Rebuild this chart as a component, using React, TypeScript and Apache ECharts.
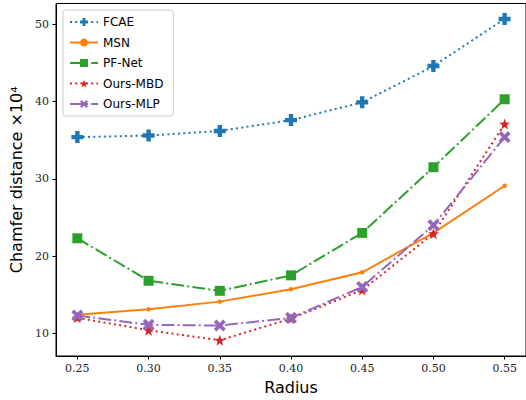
import React, { useEffect, useRef } from "react";
import * as echarts from "echarts";

const radius = [0.25, 0.3, 0.35, 0.4, 0.45, 0.5, 0.55];
const xTicks = [0.25, 0.3, 0.35, 0.4, 0.45, 0.5, 0.55];
const yTicks = [10, 20, 30, 40, 50];
const fcae = [35.4, 35.6, 36.2, 37.6, 39.9, 44.6, 50.7];
const msn = [12.4, 13.1, 14.1, 15.7, 17.9, 23.0, 29.1];
const pfnet = [22.3, 16.8, 15.5, 17.5, 23.0, 31.5, 40.3];
const oursMBD = [12.0, 10.4, 9.1, 11.9, 15.6, 22.9, 37.1];
const oursMLP = [12.3, 11.1, 11.0, 12.0, 16.0, 24.0, 35.4];

const PLUS = "path://M-1.1,-3L1.1,-3L1.1,-1.1L3,-1.1L3,1.1L1.1,1.1L1.1,3L-1.1,3L-1.1,1.1L-3,1.1L-3,-1.1L-1.1,-1.1Z";
const XMARK = "path://M-2,-3.6L0,-1.6L2,-3.6L3.6,-2L1.6,0L3.6,2L2,3.6L0,1.6L-2,3.6L-3.6,2L-1.6,0L-3.6,-2Z";
const STAR = "path://M0,-5L1.18,-1.62L4.76,-1.55L1.9,0.62L2.94,4.05L0,2L-2.94,4.05L-1.9,0.62L-4.76,-1.55L-1.18,-1.62Z";

export default function App() {
  const ref = useRef<HTMLDivElement>(null);
  useEffect(() => {
    document.body.style.margin = "0";
    const chart = echarts.init(ref.current!, null, { renderer: "svg" });
    const mk = (name: string, vals: number[], color: string, type: any, symbol: string, size: number) => ({
      name,
      type: "line",
      data: radius.map((r, i) => [r, vals[i]]),
      symbol,
      symbolSize: size,
      showSymbol: true,
      itemStyle: { color, opacity: 1 },
      lineStyle: { color, width: 2, type, cap: "butt" },
      emphasis: { disabled: true },
    });
    chart.setOption({
      animation: false,
      grid: { left: 56, width: 473, top: 3.5, bottom: 44, show: true, borderColor: "#000", borderWidth: 1, backgroundColor: "transparent" },
      legend: {
        left: 63,
        top: 10,
        orient: "vertical",
        itemWidth: 28,
        itemHeight: 10,
        itemGap: 8.5,
        padding: [6, 10, 6, 6],
        backgroundColor: "rgba(255,255,255,0.8)",
        borderColor: "#ccc",
        borderWidth: 1,
        borderRadius: 3,
        textStyle: { fontFamily: "DejaVu Sans", fontSize: 12, color: "#000" },
        data: ["FCAE", "MSN", "PF-Net", "Ours-MBD", "Ours-MLP"],
      },
      xAxis: {
        type: "value",
        min: 0.235,
        max: 0.565,
        name: "Radius",
        nameLocation: "middle",
        nameGap: 23,
        nameTextStyle: { fontFamily: "DejaVu Sans", fontSize: 16, color: "#000" },
        axisLine: { show: true, lineStyle: { color: "#000", width: 1 } },
        axisTick: { show: true, length: 3.5, lineStyle: { color: "#000" }, customValues: xTicks },
        axisLabel: {
          customValues: xTicks,
          formatter: (v: number) => v.toFixed(2),
          fontFamily: "DejaVu Serif",
          fontSize: 11,
          color: "#222",
          margin: 7,
        },
        splitLine: { show: false },
      },
      yAxis: {
        type: "value",
        min: 7.06,
        max: 52.7,
        name: "Chamfer distance ×10⁴",
        nameLocation: "middle",
        nameGap: 30,
        nameTextStyle: { fontFamily: "DejaVu Sans", fontSize: 16, color: "#000" },
        axisLine: { show: true, lineStyle: { color: "#000", width: 1 } },
        axisTick: { show: true, length: 3.5, lineStyle: { color: "#000" }, customValues: yTicks },
        axisLabel: {
          customValues: yTicks,
          fontFamily: "DejaVu Serif",
          fontSize: 11,
          color: "#222",
          margin: 7,
        },
        splitLine: { show: false },
      },
      series: [
        mk("FCAE", fcae, "#1f77b4", [2, 3.3], PLUS, 12),
        mk("MSN", msn, "#ff7f0e", "solid", "circle", 4.5),
        mk("PF-Net", pfnet, "#2ca02c", [12.8, 3.2, 2, 3.2], "rect", 10),
        mk("Ours-MBD", oursMBD, "#d62728", [2, 3.3], STAR, 11),
        mk("Ours-MLP", oursMLP, "#9467bd", [12.8, 3.2, 2, 3.2], XMARK, 12),
      ],
    });
    return () => chart.dispose();
  }, []);
  return <div ref={ref} style={{ width: 526, height: 400 }} />;
}
